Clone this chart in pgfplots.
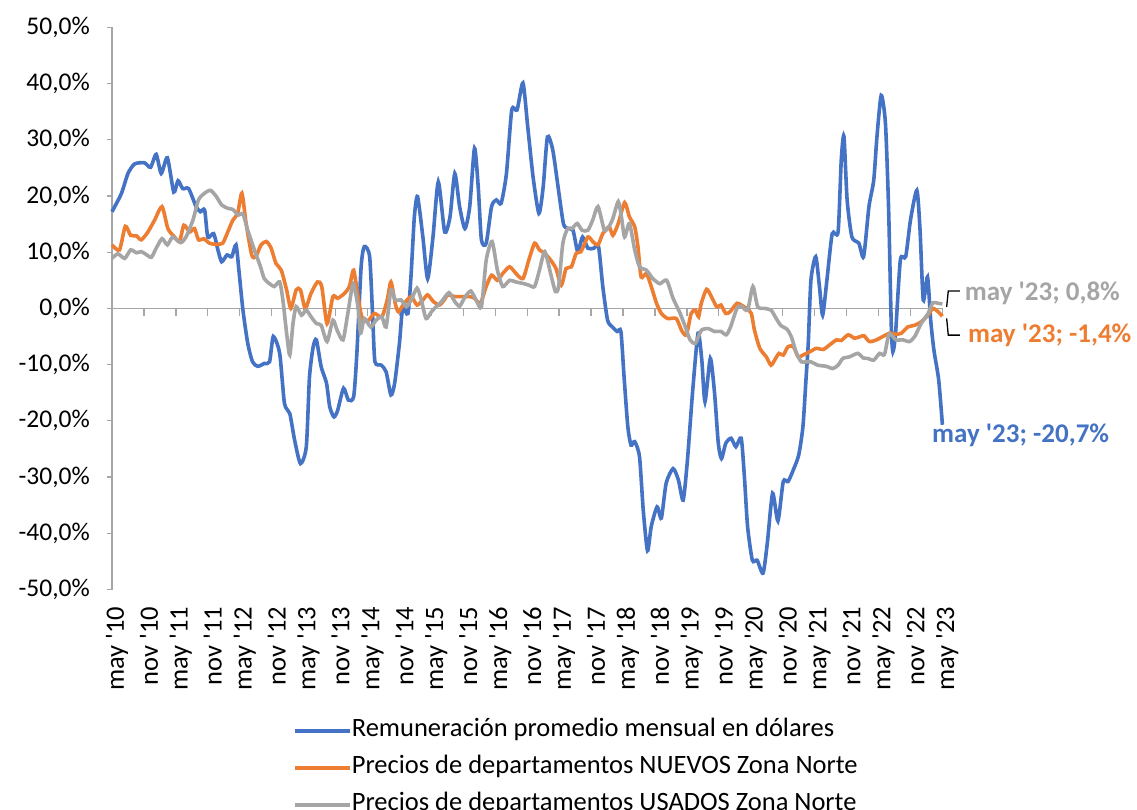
\documentclass[border=0pt]{standalone}
\usepackage{fontspec}
\setmainfont{Carlito}[Ligatures=TeXOff]
\usepackage{pgfplots}
\pgfplotsset{compat=1.18}
\definecolor{cblue}{HTML}{4472C4}
\definecolor{corange}{HTML}{ED7D31}
\definecolor{cgray}{HTML}{A5A5A5}
\definecolor{axgray}{HTML}{A6A6A6}
\begin{document}
\begin{tikzpicture}
\path[use as bounding box] (0pt,0pt) rectangle (1137pt,-810pt);
\begin{axis}[
  at={(112pt,-589.5pt)}, anchor=south west,
  scale only axis, width=830.4pt, height=562.2pt,
  xmin=0, xmax=156, ymin=-50, ymax=50,
  axis x line*=bottom, axis y line*=left,
  x axis line style={draw=none},
  y axis line style={draw=axgray, line width=1.3pt},
  xtick={0,6,...,156},
  xticklabels={may '10,nov '10,may '11,nov '11,may '12,nov '12,may '13,nov '13,may '14,nov '14,may '15,nov '15,may '16,nov '16,may '17,nov '17,may '18,nov '18,may '19,nov '19,may '20,nov '20,may '21,nov '21,may '22,nov '22,may '23},
  major x tick style={draw=none},
  ytick={-50,-40,...,50},
  yticklabels={{-50,0\%},{-40,0\%},{-30,0\%},{-20,0\%},{-10,0\%},{0,0\%},{10,0\%},{20,0\%},{30,0\%},{40,0\%},{50,0\%}},
  major y tick style={draw=axgray, line width=1.3pt},
  tick align=outside,
  major tick length=5pt,
  ticklabel style={text=black},
  yticklabel style={font=\fontsize{25.5}{30}\selectfont, anchor=east, inner sep=0pt, xshift=-17pt},
  xticklabel style={font=\fontsize{26.5}{30}\selectfont, rotate=90, anchor=east, inner sep=0pt, xshift=-12pt, yshift=-5pt},
  clip=false,
  legend style={at={(axis description cs:0.218,-0.2305)}, anchor=north west, draw=none, fill=none, inner sep=0pt, row sep=14pt, column sep=0pt, font=\fontsize{26.5}{30}\selectfont, nodes={inner sep=0pt, text height=17pt, text depth=6pt}},
  legend cell align=left,
  legend image code/.code={\draw[#1] (0pt,0pt) -- (55pt,0pt);},
]
\draw[axgray, line width=1.3pt] (axis cs:0,0) -- (axis cs:156,0);
\pgfplotsinvokeforeach{0,6,...,156}{\draw[axgray, line width=1.3pt] (axis cs:#1,0) -- ++(0pt,-8pt);}

\addplot[cblue, line width=3.6pt, smooth, tension=0.4] coordinates {
(0,17.2) (1.75,20.4) (3,24) (4.25,25.7) (6.1,25.9) (7.25,25.1) (8.3,27.4) (9.25,24) (10.4,26.8)
(11.6,20.7) (12.4,22.7) (13.3,21.3) (14.4,21.3) (15.8,18.1) (16.6,17.2) (17.4,17.5) (18,12.7)
(19.1,13.3) (19.9,10.4) (20.6,8.3) (21.6,9.5) (22.5,9.2) (23.3,11.3) (23.9,6.2) (24.6,-0.3)
(25.5,-6.2) (26.4,-9.5) (27.4,-10.3) (28.6,-9.8) (29.6,-9.5) (30.3,-5) (31.5,-8) (32.4,-16.9)
(33.4,-18.7) (34.3,-23.4) (35.4,-27.6) (36.5,-24.6) (37.1,-12.2) (37.8,-6.8) (38.4,-5.6)
(39.3,-10.4) (40.3,-13.3) (40.9,-17.5) (41.7,-19.3) (42.4,-18.1) (43.5,-14.2) (44.4,-16.3)
(45.4,-15.7) (46,-8) (46.8,7.4) (47.4,11) (48.4,9.2) (49,-2.1) (49.4,-9.5) (50.6,-10.1)
(51.5,-11.3) (52.4,-15.4) (53.1,-13.3) (54,-6.2) (54.6,0) (55.6,-0.9) (56.2,6.2) (56.8,16.3)
(57.4,19.9) (58.4,12.7) (59.3,5.3) (60.3,12.7) (61.3,22.5) (62.5,13.6) (63.5,16.3) (64.4,24)
(65.3,18.1) (66.3,14.2) (67.2,18.1) (68.1,28.5) (68.8,21.6) (69.4,12.2) (70.3,11.6) (71.3,18.1)
(72.2,19.3) (73.1,18.7) (74.1,24) (75.1,35.3) (76.1,35.3) (77.2,40.1) (78.1,32.3) (79.1,23.4)
(80.2,16.9) (81,21.6) (81.8,30.5) (82.8,28.2) (83.8,21.6) (84.8,15.1) (85.6,14.2) (86.6,13.9)
(87.5,10.1) (88.4,12.7) (89.4,10.7) (90.5,10.7) (91.4,11) (92.2,3.9) (93.1,-2.1) (94,-3.3)
(94.9,-4.1) (95.6,-4.1) (96.2,-12.2) (96.9,-21) (97.5,-24.3) (98.2,-23.7) (99.1,-26.4)
(99.8,-35.9) (100.6,-43.1) (101.3,-38.8) (102.4,-35.3) (103.2,-37.3) (104.1,-31.1) (105.4,-28.5)
(106.4,-30.5) (107.3,-34.1) (108.1,-27) (109.1,-14.5) (110.1,-4.4) (110.8,-9.2) (111.4,-16.6)
(112.4,-8.9) (113.2,-15.1) (113.9,-24) (114.5,-26.7) (115.3,-24) (116.3,-23.1) (117.2,-24.6)
(118.2,-23.1) (118.8,-29.9) (119.4,-38.8) (120.3,-44.8) (121.2,-44.8) (122.3,-47.1) (123.1,-41.8)
(124.1,-32.9) (125.1,-37.8) (126.1,-30.8) (127,-30.8) (128,-28.7) (129,-26.1) (129.8,-21)
(130.4,-12.2) (130.8,-6.2) (131.3,5) (132.2,9.2) (132.9,3.9) (133.5,-1.2) (134.3,5) (135.3,13.3)
(136.4,13.6) (137,26.4) (137.5,30.6) (138.1,19.3) (139,12.7) (140.3,11.6) (141.2,9.2) (142.2,18.1)
(143.1,22.8) (143.7,30.5) (144.5,37.9) (145.3,32.9) (145.9,17.5) (146.4,-3.3) (146.7,-7.7)
(147.2,-4.4) (148.1,8.6) (149.1,9.2) (150,15.7) (151.2,21) (151.8,13.9) (152.4,1.5) (153.2,5.6)
(153.8,-2.1) (154.4,-7.4) (155.3,-12.7) (156,-20.7)
};
\addlegendentry{Remuneración promedio mensual en dólares}

\addplot[corange, line width=3.6pt, smooth, tension=0.4] coordinates {
(0,11.3) (1.4,10.4) (2.5,14.6) (3.5,13) (4.6,12.9) (5.5,12.2) (6.75,13.6) (8,15.7) (9.4,18.1)
(10.5,14.2) (11.75,12.7) (12.7,11.9) (13.5,14.8) (14.6,13.6) (15.5,14.2) (16.25,12.2) (17.25,12.4)
(18.3,11.6) (19.6,11.4) (20.8,11.6) (21.75,13.6) (22.7,15.7) (23.6,16.9) (24.4,20.5) (25.2,15.1)
(26.25,9.5) (27,9.2) (28,11.3) (29,11.9) (29.9,10.7) (30.8,8) (31.8,6.8) (32.8,3.3) (33.6,0)
(34.6,3.3) (35.4,3.3) (36.3,0) (37.4,2.7) (38.6,4.7) (39.4,3.9) (40.4,-2.7) (41.5,2.1) (42.4,1.8)
(43.7,2.7) (44.6,3.9) (45.4,6.8) (46.3,1.5) (47.1,-2.1) (48.2,-2.1) (49.3,-0.9) (50.7,-1.5)
(51.7,1.5) (52.4,4.7) (53.2,0.9) (53.8,-0.6) (54.9,0.9) (56.2,2.1) (57.3,0.6) (58.4,1.5)
(59.3,2.4) (60.4,1.2) (61.5,0.6) (62.4,1.5) (63.1,2.4) (64.4,2.1) (65.6,2.1) (67.2,2.1) (68.1,1.8)
(69.2,0.9) (70.3,3.9) (71.3,5.9) (72.4,5) (73.4,6.2) (74.7,7.4) (75.9,6.2) (77.2,5.3) (78.3,8.6)
(79.4,11.6) (80.3,10.4) (81.3,9.8) (82.4,8.6) (83.4,7.1) (84.4,4.1) (85.3,7.1) (86.3,7.4)
(87.2,9.8) (88.1,10.1) (89.4,12.7) (90.3,11.9) (91.3,11.3) (92.2,13.3) (93.4,14.5) (94.1,13)
(95.1,15.1) (96.3,18.8) (97.2,16.3) (98.2,14.5) (98.8,11) (99.4,5.6) (100.4,6.2) (101.3,3.9)
(102.3,0.9) (103.2,-0.9) (104.4,-1.8) (106,-1.8) (107,-3.9) (107.9,-4.7) (108.8,-0.9) (109.6,-0.3)
(110.2,-1.5) (110.7,0.9) (111.7,3.4) (112.6,2.1) (113.6,0.3) (114.4,0.6) (115.3,-0.9) (116.1,-0.6)
(117.4,0.9) (118.2,0.6) (119.2,0) (120.1,-0.9) (120.7,-3.9) (121.7,-7.1) (122.9,-8.6) (123.8,-10.1)
(124.6,-9) (125.3,-8) (126.1,-8.3) (127,-6.8) (128,-6.8) (128.9,-8.6) (129.8,-8.3) (131.1,-7.7)
(132.3,-7.1) (133.6,-7.3) (134.8,-6.5) (136.1,-5.6) (137,-5.7) (138.3,-4.7) (139.5,-5.3)
(140.6,-5) (141.3,-4.9) (142.3,-5.9) (143.6,-5.6) (144.8,-5) (146.1,-4.4) (147.3,-4.6) (148.3,-4.4)
(149.5,-3.3) (150.8,-3) (152,-2.4) (153.3,-1.2) (154.2,0) (155.2,-0.6) (156,-1.4)
};
\addlegendentry{Precios de departamentos NUEVOS Zona Norte}

\addplot[cgray, line width=3.6pt, smooth, tension=0.4] coordinates {
(0,8.9) (1.1,9.7) (2.4,8.9) (3.5,10.4) (4.6,9.9) (5.5,10.1) (6.4,9.6) (7.4,9.1) (8.3,10.7)
(9.4,12.4) (10.4,11.3) (11.4,12.7) (12.9,11.7) (13.9,12.7) (15.2,15.7) (16.25,19.3) (17.4,20.5)
(18.5,21) (19.6,19.9) (20.6,18.4) (21.75,17.8) (22.7,17.6) (23.75,16.6) (24.6,16.8) (25.5,13.9)
(26.75,10.4) (27.9,7.4) (28.6,5.3) (29.6,4.4) (30.5,3.9) (31.5,4.7) (32.1,1.5) (32.8,-4.4)
(33.4,-8.3) (34,-2.7) (34.6,0.3) (35.6,-1.2) (36.5,-0.3) (37.4,-1.5) (38.4,-2.7) (39.3,-3)
(40.4,-5.9) (41.5,-2.1) (42.3,-3.9) (43.4,-5.6) (44.3,-0.9) (45.3,4.4) (46.2,0.3) (46.7,-4.4)
(47.4,-1.8) (48.6,-3.3) (49.6,-2.1) (50.7,-1.5) (51.5,-3.3) (52.4,3.3) (53.2,1.5) (54.3,1.5)
(55.3,0.3) (56.2,1.5) (57.3,3.6) (58.1,1.5) (59,-1.8) (60,-0.6) (60.9,0.3) (61.9,1.2) (63.3,2.8)
(64.4,1.2) (65.3,0.4) (66.3,2) (67.4,3.1) (68.4,1.5) (69.4,0.3) (70.3,8.6) (71.4,11.9) (72.4,6.8)
(73.4,3.9) (74.7,5) (75.9,4.7) (77.4,4.4) (78.4,4.1) (79.4,3.9) (80.3,6.8) (81.3,10.1) (82.4,6.2)
(83.3,3) (83.9,3.9) (84.7,11.6) (85.6,14.2) (86.4,14.2) (87.4,15.1) (88.3,13.9) (89.4,13.9)
(90.3,15.7) (91.3,18.1) (92.5,13.9) (93.4,14.6) (94.1,16) (95.1,19) (95.7,16.3) (96.3,12.7)
(97.2,15.1) (98.2,10.4) (99.1,7.4) (100.4,6.8) (101.6,5.3) (102.9,4.4) (104.2,5) (105.4,1.8)
(106.6,-0.6) (107.6,-3) (108.6,-5.6) (109.6,-6.2) (110.7,-3.9) (112,-3.6) (113.2,-4.1) (114.4,-4.1)
(115.4,-4.7) (116.2,-3.3) (117.4,0) (118.2,0.4) (119.4,-0.3) (120.4,3.9) (121.3,0.3) (122.6,0)
(123.8,-0.3) (124.6,-1.5) (125.6,-3) (126.8,-3.7) (127.6,-5) (128.6,-8) (129.5,-9.5) (130.4,-9.5)
(131.3,-9.5) (132.6,-10.1) (134.2,-10.3) (135.4,-10.7) (136.4,-10.1) (137.3,-8.9) (138.6,-8.6)
(140.1,-8) (141.1,-8.8) (142,-8.9) (143.1,-9.2) (144.2,-8) (145.1,-8.2) (145.9,-4.7) (146.4,-4.7)
(147.3,-5.6) (148.6,-5.6) (149.8,-5.9) (150.8,-5) (152,-2.7) (153.3,-0.9) (154.2,1) (155.2,0.9)
(156,0.8)
};
\addlegendentry{Precios de departamentos USADOS Zona Norte}

\draw[black, line width=1.3pt] (axis cs:156.8,0.28) -- (axis cs:157.1,3.08) -- (axis cs:159.3,3.08);
\draw[black, line width=1.3pt] (axis cs:156.8,-1.78) -- (axis cs:157.1,-4.75) -- (axis cs:159.3,-4.75);
\node[anchor=west, inner sep=0pt, text=cgray, font=\fontsize{27}{30}\selectfont\bfseries] at (axis cs:160.2,2.7) {may '23; 0,8\%};
\node[anchor=west, inner sep=0pt, text=corange, font=\fontsize{27}{30}\selectfont\bfseries] at (axis cs:160.8,-4.75) {may '23; -1,4\%};
\node[anchor=west, inner sep=0pt, text=cblue, font=\fontsize{27}{30}\selectfont\bfseries] at (axis cs:154.05,-22.5) {may '23; -20,7\%};
\end{axis}
\end{tikzpicture}
\end{document}
